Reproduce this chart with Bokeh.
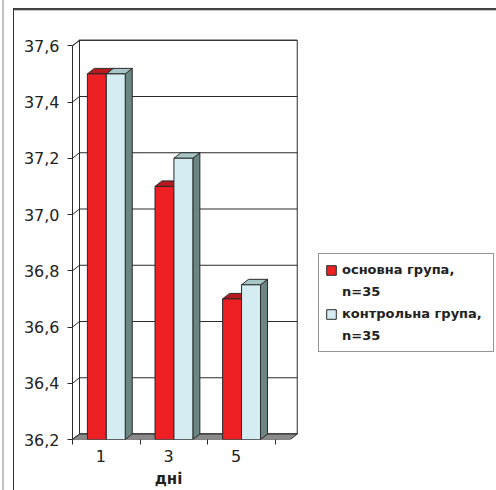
from bokeh.plotting import figure
from bokeh.models import (Range1d, FixedTicker, CustomJSTickFormatter, Legend,
                          LegendItem, LinearAxis, ColumnDataSource)
from bokeh.embed import file_html
from bokeh.resources import INLINE

# ---- data -------------------------------------------------------------
days = ["1", "3", "5"]
main_group = [37.5, 37.1, 36.7]          # основна група
control_group = [37.5, 37.2, 36.75]      # контрольна група
series_names = ["основна група,", "контрольна група,"]
group_size = "n=35"
y_ticks = [36.2, 36.4, 36.6, 36.8, 37.0, 37.2, 37.4, 37.6]
x_title = "дні"

# ---- layout / 3D look -------------------------------------------------
FONT = "DejaVu Sans"
W, H = 496, 490
FRAME_L, FRAME_R, FRAME_T, FRAME_B = 72, W, 34, 439
X_END = 6.27
Y_MIN, Y_TOP = y_ticks[0], 37.64
Y_MAX = y_ticks[-1]
PX_X = (FRAME_R - FRAME_L) / X_END
PX_Y = (FRAME_B - FRAME_T) / (Y_TOP - Y_MIN)
DX = 7 / PX_X            # depth of the box, horizontal
DY = 5.5 / PX_Y          # depth of the box, vertical
FLOOR_END = 3.22
WALL_R = FLOOR_END + DX
BAR_W = 0.28
LABEL_SHIFT = 0.08

RED, RED_TOP, RED_SIDE = "#ee2024", "#b8191e", "#8e1216"
BLUE, BLUE_TOP, BLUE_SIDE = "#d4ecf2", "#a6c6c8", "#6c8684"
EDGE = "#2a2a2a"
TEXT = "#222222"

p = figure(width=W, height=H, x_range=Range1d(0, X_END), y_range=Range1d(Y_MIN, Y_TOP),
           output_backend="svg", toolbar_location=None,
           min_border_left=FRAME_L, min_border_right=W - FRAME_R,
           min_border_top=FRAME_T, min_border_bottom=H - FRAME_B,
           border_fill_color=None, background_fill_color=None,
           outline_line_color=None)
p.grid.visible = False

# outer chart border drawn as page background lines
p.styles = {
    "background-image": "linear-gradient(#c4c4c4,#c4c4c4), linear-gradient(#333,#333), "
                        "linear-gradient(#444,#444), linear-gradient(#c8c8c8,#c8c8c8)",
    "background-position": "2px 0px, 13px 8px, 13px 8px, 13px 10px",
    "background-size": "2px 100%, 1px 482px, 483px 2px, 483px 1px",
    "background-repeat": "no-repeat",
}

# left wall and back wall
p.patch([0, DX, DX, 0], [Y_MIN, Y_MIN + DY, Y_MAX + DY, Y_MAX],
        fill_color="white", line_color=EDGE, line_width=1)
p.quad(left=[DX], right=[WALL_R], bottom=[Y_MIN + DY], top=[Y_MAX + DY],
       fill_color="white", line_color=EDGE, line_width=1)

# gridlines on the walls
p.multi_line(xs=[[0, DX, WALL_R] for _ in y_ticks],
             ys=[[t, t + DY, t + DY] for t in y_ticks],
             line_color=EDGE, line_width=1)

# floor
p.patch([0, FLOOR_END, FLOOR_END + DX, DX], [Y_MIN, Y_MIN, Y_MIN + DY, Y_MIN + DY],
        fill_color="#8a8a8a", line_color=EDGE, line_width=1)


def draw_series(values, offset, front, top, side):
    lefts = [i + 0.5 + offset for i in range(len(values))]
    rights = [l + BAR_W for l in lefts]
    sides_x = [[r, r, r + DX, r + DX] for r in rights]
    sides_y = [[Y_MIN, v, v + DY, Y_MIN + DY] for v in values]
    tops_x = [[l, r, r + DX, l + DX] for l, r in zip(lefts, rights)]
    tops_y = [[v, v, v + DY, v + DY] for v in values]
    p.patches(sides_x, sides_y, fill_color=side, line_color=EDGE, line_width=1)
    p.patches(tops_x, tops_y, fill_color=top, line_color=EDGE, line_width=1)
    src = ColumnDataSource(dict(left=lefts, right=rights, top=values,
                                bottom=[Y_MIN] * len(values)))
    return p.quad(left="left", right="right", top="top", bottom="bottom", source=src,
                  fill_color=front, line_color=EDGE, line_width=1)


red_bars = draw_series(main_group, -BAR_W, RED, RED_TOP, RED_SIDE)
blue_bars = draw_series(control_group, 0.0, BLUE, BLUE_TOP, BLUE_SIDE)

# y axis
p.yaxis.ticker = FixedTicker(ticks=y_ticks)
p.yaxis.formatter = CustomJSTickFormatter(code="return tick.toFixed(1).replace('.', ',')")
p.yaxis.bounds = (Y_MIN, Y_MAX)
p.yaxis.axis_line_color = EDGE
p.yaxis.major_tick_line_color = EDGE
p.yaxis.major_tick_out = 5
p.yaxis.major_tick_in = 0
p.yaxis.minor_tick_line_color = None
p.yaxis.major_label_standoff = 8
p.yaxis.major_label_text_font = FONT
p.yaxis.major_label_text_font_size = "16px"
p.yaxis.major_label_text_color = TEXT

# x axis: labels under categories, ticks on category boundaries
p.xaxis.ticker = FixedTicker(ticks=[i + 0.5 - LABEL_SHIFT for i in range(len(days))],
                             minor_ticks=list(range(len(days) + 1)))
p.xaxis.formatter = CustomJSTickFormatter(args=dict(labels=days),
                                          code="return labels[Math.round(tick)] || ''")
p.xaxis.bounds = (0, FLOOR_END)
p.xaxis.axis_line_color = None
p.xaxis.major_tick_line_color = None
p.xaxis.minor_tick_line_color = EDGE
p.xaxis.minor_tick_out = 5
p.xaxis.minor_tick_in = 0
p.xaxis.major_label_standoff = 4
p.xaxis.major_label_text_font = FONT
p.xaxis.major_label_text_font_size = "16px"
p.xaxis.major_label_text_color = TEXT

# axis title, centred under the categories
title_axis = LinearAxis(ticker=FixedTicker(ticks=[len(days) / 2 - LABEL_SHIFT]),
                        formatter=CustomJSTickFormatter(args=dict(t=x_title), code="return t"),
                        axis_line_color=None, major_tick_line_color=None,
                        minor_tick_line_color=None, major_tick_out=0, minor_tick_out=0,
                        major_label_standoff=5,
                        major_label_text_font=FONT, major_label_text_font_size="15px",
                        major_label_text_font_style="bold", major_label_text_color=TEXT)
p.add_layout(title_axis, "below")

# legend: one coloured line per series plus its group size
blank = p.quad(left=[], right=[], top=[], bottom=[], fill_alpha=0, line_alpha=0)
items = []
for name, r in zip(series_names, (red_bars, blue_bars)):
    items.append(LegendItem(label=name, renderers=[r]))
    items.append(LegendItem(label=group_size, renderers=[blank]))
legend = Legend(items=items,
                location=(318 - FRAME_L, FRAME_B - 352),
                border_line_color=EDGE, border_line_width=1.5,
                background_fill_color="white", background_fill_alpha=1,
                label_text_font=FONT, label_text_font_size="13px",
                label_text_font_style="bold", label_text_color=TEXT,
                glyph_width=12, glyph_height=12, label_standoff=5,
                label_height=19, label_width=145,
                padding=6, spacing=3, margin=0)
p.add_layout(legend)

open("out.html", "w").write(file_html(p, INLINE))
